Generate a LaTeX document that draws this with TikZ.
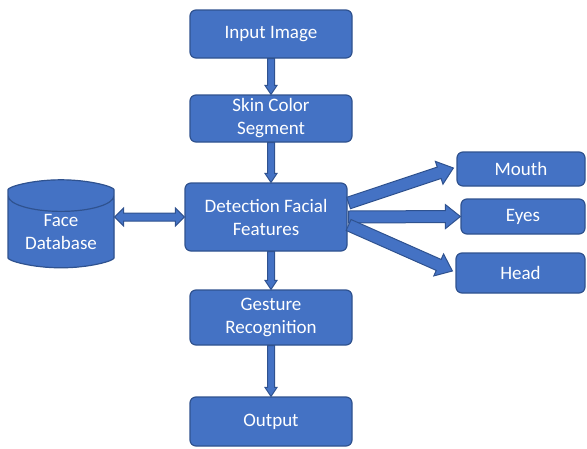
\documentclass[tikz,border=0pt]{standalone}
\usepackage{fontspec}
\setmainfont{Carlito}
\usetikzlibrary{calc,shapes.geometric}
\definecolor{boxblue}{HTML}{4472C4}
\definecolor{edgeblue}{HTML}{2F528F}
\definecolor{topblue}{HTML}{8FAADC}
\tikzset{
  box/.style={draw=edgeblue, fill=boxblue, line width=1.2pt, rounded corners=6pt,
    text=white, align=center, inner sep=0pt, font=\fontsize{19}{23}\selectfont},
  arrowbody/.style={draw=edgeblue, fill=boxblue, line width=1pt, line join=miter},
}
% block arrow: from, to, half shaft, half head, head length
\newcommand\blockarrow[5]{%
  \coordinate (ba) at ($(#2)!#5!(#1)$);
  \draw[arrowbody] ($(#1)!#3!90:(#2)$) -- ($(ba)!#3!90:(#2)$) -- ($(ba)!#4!90:(#2)$) -- (#2)
    -- ($(ba)!#4!-90:(#2)$) -- ($(ba)!#3!-90:(#2)$) -- ($(#1)!#3!-90:(#2)$) -- cycle;
}
% same with a head at both ends
\newcommand\dblockarrow[5]{%
  \coordinate (ba) at ($(#1)!#5!(#2)$);
  \coordinate (bb) at ($(#2)!#5!(#1)$);
  \draw[arrowbody] (#1) -- ($(ba)!#4!90:(#2)$) -- ($(ba)!#3!90:(#2)$) -- ($(bb)!#3!90:(#2)$)
    -- ($(bb)!#4!90:(#2)$) -- (#2) -- ($(bb)!#4!-90:(#2)$) -- ($(bb)!#3!-90:(#2)$)
    -- ($(ba)!#3!-90:(#2)$) -- ($(ba)!#4!-90:(#2)$) -- cycle;
}
\begin{document}
\begin{tikzpicture}[x=1pt, y=-1pt]
\useasboundingbox (0,0) rectangle (587,448);
% main column
\node[box, minimum width=162pt, minimum height=48pt] (inimg) at (271,34) {Input Image};
\node[box, minimum width=162pt, minimum height=47pt] (skin) at (271,118.5) {Skin Color\\Segment};
\node[box, minimum width=162pt, minimum height=68pt] (detect) at (266,217) {Detection Facial\\Features};
\node[box, minimum width=162pt, minimum height=55pt] (gesture) at (271,317.5) {Gesture\\Recognition};
\node[box, minimum width=162pt, minimum height=49pt] (output) at (271,421.5) {Output};
% features
\node[box, minimum width=128pt, minimum height=34pt] (mouth) at (521,169) {Mouth};
\node[box, minimum width=124pt, minimum height=35pt] (eyes) at (523,216.5) {Eyes};
\node[box, minimum width=129pt, minimum height=40pt] (head) at (520.5,273) {Head};
% database
\node[box, cylinder, shape border rotate=90, aspect=0.44, minimum width=106pt, minimum height=88pt,
  cylinder uses custom fill, cylinder body fill=boxblue, cylinder end fill=topblue] (facedb) at (61,232) {Face\\Database};
% connectors
\coordinate (sd) at (skin.south |- detect.north);
\coordinate (dg) at (detect.south -| gesture.north);
\blockarrow{inimg.south}{skin.north}{3.5pt}{6pt}{9pt}
\blockarrow{skin.south}{sd}{3.5pt}{6pt}{9pt}
\blockarrow{dg}{gesture.north}{3.5pt}{6pt}{9pt}
\blockarrow{gesture.south}{output.north}{3.5pt}{6pt}{9pt}
\coordinate (fd) at (facedb.east |- detect.west);
\dblockarrow{fd}{detect.west}{4pt}{9pt}{9pt}
\coordinate (m0) at ($(detect.east)+(1,-14)$);
\coordinate (e0) at ($(detect.east)+(1,0)$);
\coordinate (h0) at ($(detect.east)+(1,8)$);
\coordinate (mt) at ($(mouth.west)+(-3,-1)$);
\coordinate (ht) at ($(head.west)+(-3,-2)$);
\blockarrow{m0}{mt}{6pt}{12pt}{15pt}
\blockarrow{e0}{eyes.west}{6pt}{12pt}{15pt}
\blockarrow{h0}{ht}{6pt}{12pt}{15pt}
\end{tikzpicture}
\end{document}
